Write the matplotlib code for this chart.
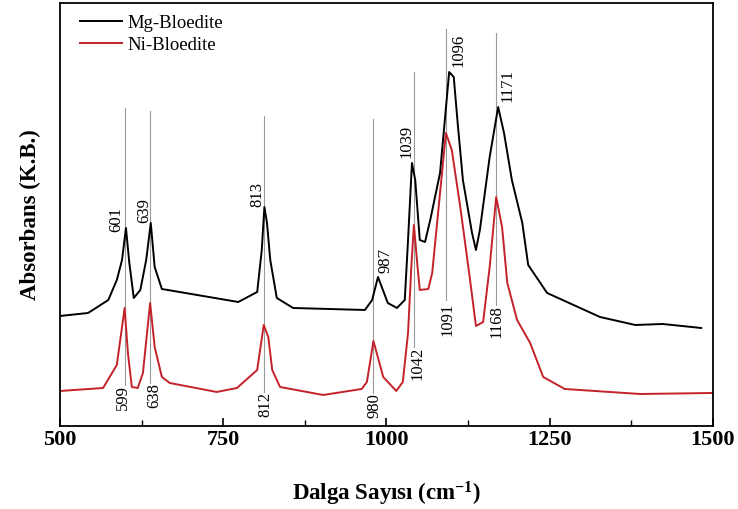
import matplotlib
matplotlib.use("Agg")
import matplotlib.pyplot as plt
from matplotlib.ticker import MultipleLocator

plt.rcParams['font.family'] = ['Liberation Serif', 'DejaVu Serif']
plt.rcParams['mathtext.fontset'] = 'custom'
plt.rcParams['mathtext.rm'] = 'Liberation Serif:bold'
plt.rcParams['mathtext.bf'] = 'Liberation Serif:bold'
plt.rcParams['mathtext.default'] = 'bf'

# Mg-Bloedite spectrum (wavenumber, absorbance in arbitrary units)
mg_x = [500, 543, 574, 587, 595, 601, 606, 613, 623, 632, 639, 645, 656, 773, 802, 809,
        813, 817, 822, 832, 857, 967, 978, 987, 1002, 1016, 1028, 1033, 1039, 1044, 1051,
        1059, 1067, 1082, 1096, 1103, 1109, 1117, 1131, 1137, 1143, 1158, 1171, 1180, 1192,
        1208, 1217, 1246, 1327, 1381, 1423, 1482]
mg_y = [110, 113, 126, 146, 166, 198, 164, 128, 136, 166, 203, 159, 137, 124, 134, 176,
        219, 203, 166, 128, 118, 116, 126, 149, 123, 118, 126, 186, 263, 246, 186,
        184, 206, 253, 354, 349, 303, 246, 193, 176, 196, 269, 319, 293, 246,
        203, 161, 133, 109, 101, 102, 98]

# Ni-Bloedite spectrum
ni_x = [500, 566, 587, 599, 604, 610, 619, 627, 638, 645, 656, 668, 740, 771, 802, 812,
        819, 825, 837, 903, 962, 970, 980, 995, 1015, 1025, 1033, 1038, 1042, 1047, 1051,
        1064, 1070, 1091, 1100, 1113, 1128, 1137, 1148, 1158, 1168, 1177, 1185, 1200, 1220,
        1240, 1273, 1388, 1500]
ni_y = [35, 38, 61, 118, 73, 39, 38, 53, 123, 79, 49, 43, 34, 38, 56, 101,
        89, 56, 39, 31, 37, 44, 85, 49, 35, 44, 93, 159, 201, 163, 136,
        137, 153, 293, 276, 219, 146, 100, 104, 159, 229, 199, 143, 106, 83,
        49, 37, 32, 33]

# Peak marker lines: position, lower end, upper end
line_x = [599, 638, 812, 980, 1042, 1091, 1168]
line_lo = [41, 43, 34, 33, 79, 126, 121]
line_hi = [318, 315, 310, 307, 354, 397, 393]

# Peak labels, Mg (above) and Ni (below)
mg_labels = ['601', '639', '813', '987', '1039', '1096', '1171']
mg_lab_x = [586, 629, 802, 998, 1031, 1111, 1186]
mg_lab_y = [194, 203, 219, 153, 268, 359, 324]
ni_labels = ['599', '638', '812', '980', '1042', '1091', '1168']
ni_lab_x = [596, 645, 814, 982, 1047, 1093, 1169]
ni_lab_y = [41, 43, 34, 33, 79, 123, 121]

xticks = [500, 750, 1000, 1250, 1500]

fig = plt.figure(figsize=(7.38, 5.09), dpi=100)
ax = fig.add_axes([0.0813, 0.1631, 0.9661 - 0.0813, 0.9941 - 0.1631])

for x, lo, hi in zip(line_x, line_lo, line_hi):
    ax.plot([x, x], [lo, hi], color='#9a9a9a', lw=0.8, zorder=1)

ax.plot(mg_x, mg_y, color='black', lw=1.4, label='Mg-Bloedite', zorder=3)
ax.plot(ni_x, ni_y, color='#c4222a', lw=1.4, label='Ni-Bloedite', zorder=2)

for t, x, y in zip(mg_labels, mg_lab_x, mg_lab_y):
    ax.text(x, y, t, rotation=90, ha='center', va='bottom', fontsize=12)
for t, x, y in zip(ni_labels, ni_lab_x, ni_lab_y):
    ax.text(x, y, t, rotation=90, ha='center', va='top', fontsize=12)

ax.set_xlim(500, 1500)
ax.set_ylim(0, 423)
ax.set_xticks(xticks)
ax.set_xticklabels([str(v) for v in xticks], fontweight='bold', fontsize=16)
ax.xaxis.set_minor_locator(MultipleLocator(125))
ax.tick_params(axis='x', which='major', direction='in', length=6, width=1.2, pad=3)
ax.tick_params(axis='x', which='minor', direction='in', length=4, width=1.0)
ax.set_yticks([])
for s in ax.spines.values():
    s.set_linewidth(1.3)

ax.set_xlabel('Dalga Sayısı (cm$^{-1}$)', fontsize=16.5, fontweight='bold', labelpad=21)
ax.set_ylabel('Absorbans (K.B.)', fontsize=16.5, fontweight='bold', labelpad=14)

ax.legend(loc='upper left', bbox_to_anchor=(0.0306, 0.973), frameon=False,
          fontsize=13.5, handlelength=2.24, handletextpad=0.27, labelspacing=0.28,
          borderpad=0, borderaxespad=0)

fig.savefig('out.png', dpi=100)
